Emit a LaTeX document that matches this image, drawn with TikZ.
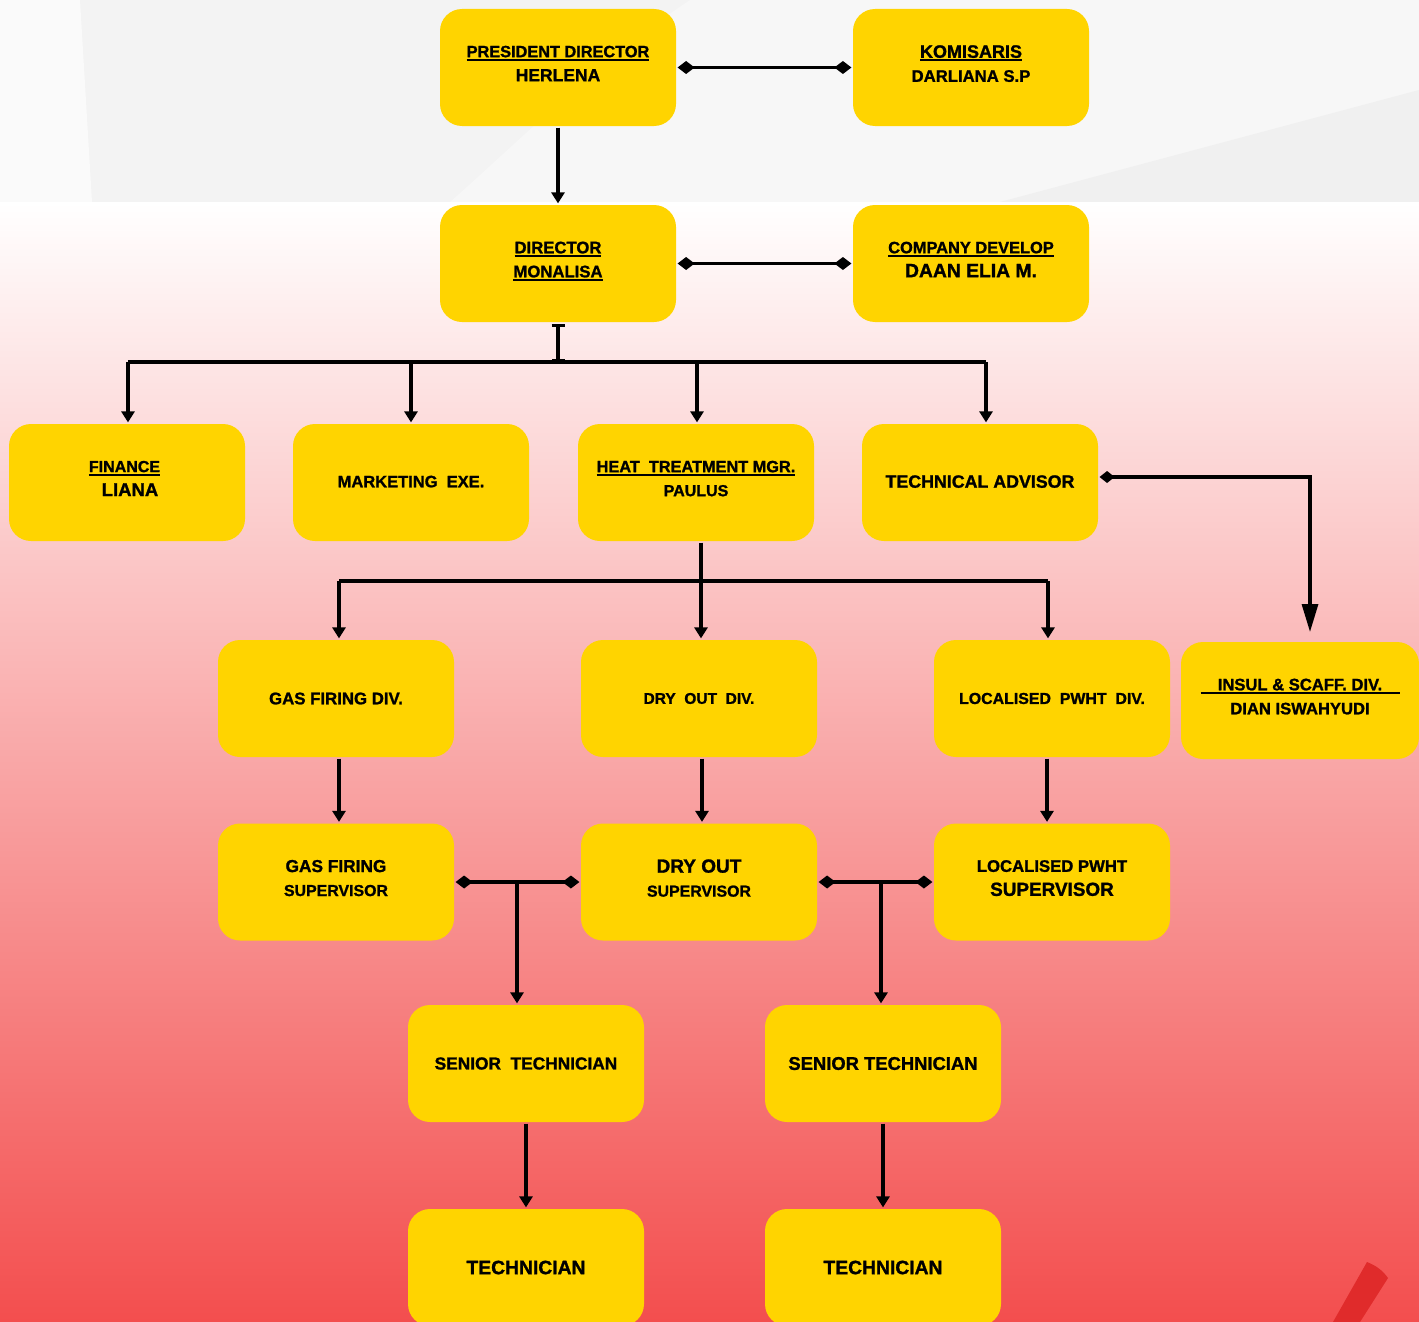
\documentclass[tikz,border=0pt]{standalone}
\usepackage{fontspec}
\setmainfont{Liberation Sans}[BoldFeatures={FakeBold=1.3}]
\usetikzlibrary{arrows.meta}
\definecolor{boxy}{HTML}{FFD400}
\definecolor{bgred}{HTML}{F34E4E}
\definecolor{bgmid}{HTML}{F8A6A6}
\definecolor{topgray}{HTML}{F3F3F3}
\definecolor{stripecol}{HTML}{E02B2B}
\newcommand\fz[1]{\fontsize{#1}{24}\selectfont}
\newcommand\ulx[1]{\setbox0\hbox{#1}\rlap{\rule[-3.5pt]{\wd0}{2pt}}\box0}
\newcommand\ulw[2]{\setbox0\hbox{#2}\rlap{\hbox to \wd0{\hss\rule[-3.5pt]{#1}{2.2pt}\hss}}\box0}
\begin{document}
\begin{tikzpicture}[x=1pt,y=-1pt,line width=3.2pt,
  box/.style={fill=boxy, rounded corners=22pt, minimum width=236pt, minimum height=117pt,
    inner sep=0pt, align=center, font=\bfseries\fz{16.5}},
  two/.style={text depth=8pt},
  one/.style={text depth=2pt},
  arr/.style={-{Triangle[width=13pt,length=11pt]}},
  dd/.style={{Diamond[width=13pt,length=17pt]}-{Diamond[width=13pt,length=17pt]}},
  barends/.style={{Bar[width=13pt]}-{Bar[width=13pt]}},
  tadd/.style={{Diamond[width=12pt,length=15pt]}-{Triangle[width=16pt,length=28pt]}}]
\useasboundingbox (0,0) rectangle (1419,1322);
\clip (0,0) rectangle (1419,1322);
% background
\fill[topgray] (0,0) rectangle (1419,202);
\fill[white!55!topgray] (0,0) -- (80,0) -- (92,202) -- (0,202) -- cycle;
\fill[white!35!topgray] (690,0) .. controls (600,60) and (520,140) .. (450,202) -- (1300,202) -- (1419,120) -- (1419,0) -- cycle;
\fill[black!1!topgray] (1000,202) -- (1419,90) -- (1419,202) -- cycle;
\shade[top color=white, middle color=bgmid, bottom color=bgred] (0,202) rectangle (1419,1322);
\fill[stripecol] (1333,1322) -- (1367,1262) .. controls (1377,1266) and (1383,1271) .. (1388,1278) -- (1360,1322) -- cycle;
% nodes
\node[box,two] (pd) at (558,67.5) {{\fz{16.3}\ulx{PRESIDENT DIRECTOR}}\\{\fz{17.5}HERLENA}};
\node[box,two] (kom) at (971,67.5) {{\fz{18}\ulx{KOMISARIS}}\\{\fz{16.7}DARLIANA S.P}};
\node[box,two] (dir) at (558,263.5) {{\fz{16.7}\ulx{DIRECTOR}}\\{\fz{16.7}\ulx{MONALISA}}};
\node[box,two] (comp) at (971,263.5) {{\fz{16.4}\ulx{COMPANY DEVELOP}}\\{\fz{19.3}DAAN ELIA M.}};
\node[box,two] (fin) at (127,482.5) {{\fz{16}\ulx{FINANCE}}\hspace*{5pt}\\\hspace*{6pt}{\fz{18.5}LIANA}};
\node[box,one] (mkt) at (411,482.5) {MARKETING\ \ EXE.};
\node[box,two] (ht) at (696,482.5) {{\fz{16.3}\ulx{HEAT\ \ TREATMENT MGR.}}\\{\fz{16}PAULUS}};
\node[box,one] (ta) at (980,482.5) {\fz{17.8}TECHNICAL ADVISOR};
\node[box] (gas) at (336,698.5) {\fz{16.8}GAS FIRING DIV.};
\node[box] (dry) at (699,698.5) {\fz{15.5}DRY\ \ OUT\ \ DIV.};
\node[box] (loc) at (1052,698.5) {\fz{15.9}LOCALISED\ \ PWHT\ \ DIV.};
\node[box,two, minimum width=238pt] (insul) at (1300,700.5) {{\fz{16.6}\ulw{199pt}{INSUL \& SCAFF. DIV.}}\\{\fz{16.6}DIAN ISWAHYUDI}};
\node[box,two] (gsup) at (336,882) {{\fz{17.3}GAS FIRING}\\{\fz{15.9}SUPERVISOR}};
\node[box,two] (dsup) at (699,882) {{\fz{19}DRY OUT}\\{\fz{15.9}SUPERVISOR}};
\node[box,two] (lsup) at (1052,882) {{\fz{16.7}LOCALISED PWHT}\\{\fz{18.9}SUPERVISOR}};
\node[box] (st1) at (526,1063.5) {\fz{17.3}SENIOR\ \ TECHNICIAN};
\node[box] (st2) at (883,1063.5) {\fz{18.4}SENIOR TECHNICIAN};
\node[box] (t1) at (526,1267.5) {\fz{19.3}TECHNICIAN};
\node[box] (t2) at (883,1267.5) {\fz{19.3}TECHNICIAN};
% coordinates
\coordinate (bus0) at (558,362);
\coordinate (b1) at (128,362);
\coordinate (b2) at (411,362);
\coordinate (b3) at (697,362);
\coordinate (b4) at (986,362);
\coordinate (c1) at (339,581);
\coordinate (c2) at (1048,581);
\coordinate (tac) at (1310,477);
\coordinate (insa) at (1310,632);
\coordinate (j1) at (517,882);
\coordinate (j2) at (881,882);
% connectors
\draw[dd] (pd.east) -- (kom.west);
\draw[arr] (pd.south) -- (dir.north);
\draw[dd] (dir.east) -- (comp.west);
\draw[barends] (dir.south) -- (bus0);
\draw (b1) -- (b4);
\draw[arr] (b1) -- (b1 |- fin.north);
\draw[arr] (b2) -- (b2 |- mkt.north);
\draw[arr] (b3) -- (b3 |- ht.north);
\draw[arr] (b4) -- (b4 |- ta.north);
\draw[arr] ([xshift=5pt]ht.south) -- ([xshift=2pt]dry.north);
\draw (c1) -- (c2);
\draw[arr] (c1) -- (c1 |- gas.north);
\draw[arr] (c2) -- (c2 |- loc.north);
\draw[tadd] ([yshift=5.5pt]ta.east) -- (tac) -- (insa);
\draw[arr] ([xshift=3pt]gas.south) -- ([xshift=3pt]gsup.north);
\draw[arr] ([xshift=3pt]dry.south) -- ([xshift=3pt]dsup.north);
\draw[arr] ([xshift=-5pt]loc.south) -- ([xshift=-5pt]lsup.north);
\draw[dd] (gsup.east) -- (dsup.west);
\draw[arr] (j1) -- (j1 |- st1.north);
\draw[dd] (dsup.east) -- (lsup.west);
\draw[arr] (j2) -- (j2 |- st2.north);
\draw[arr] (st1.south) -- (t1.north);
\draw[arr] (st2.south) -- (t2.north);
\end{tikzpicture}
\end{document}
